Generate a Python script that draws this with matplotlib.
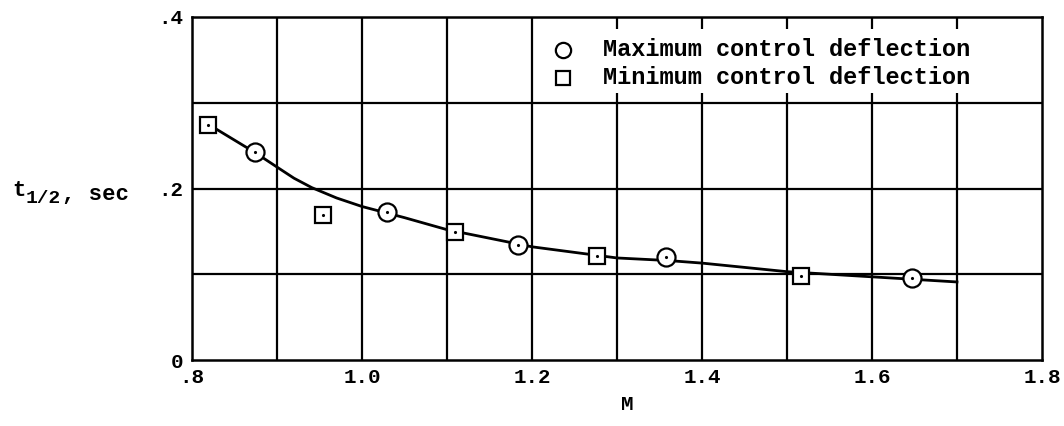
import matplotlib
matplotlib.use("Agg")
import matplotlib.pyplot as plt
from matplotlib.patches import Rectangle

# Data
max_M = [0.874, 1.029, 1.183, 1.358, 1.647]
max_t = [0.243, 0.173, 0.134, 0.1205, 0.096]
min_M = [0.819, 0.954, 1.109, 1.277, 1.517]
min_t = [0.274, 0.169, 0.149, 0.1215, 0.098]

# faired curve
fair_M = [0.819, 0.874, 0.9, 0.92, 0.941, 0.97, 1.0, 1.05, 1.1, 1.2, 1.3, 1.36, 1.4, 1.5, 1.6, 1.7]
fair_t = [0.275, 0.242, 0.225, 0.212, 0.201, 0.189, 0.179, 0.166, 0.152, 0.132, 0.119, 0.116, 0.113, 0.103, 0.097, 0.091]

x_ticks = [0.8, 1.0, 1.2, 1.4, 1.6, 1.8]
x_labels = [".8", "1.0", "1.2", "1.4", "1.6", "1.8"]
y_ticks = [0, 0.2, 0.4]
y_labels = ["0", ".2", ".4"]
legend_labels = ["Maximum control deflection", "Minimum control deflection"]

mono = "Liberation Mono"

fig = plt.figure(figsize=(10.64, 4.26), dpi=100)
ax = fig.add_axes([192/1064, 1-360/426, 850/1064, 343/426])
ax.set_xlim(0.8, 1.8)
ax.set_ylim(0, 0.4)

# grid every 0.1
for gx in [0.9, 1.0, 1.1, 1.2, 1.3, 1.4, 1.5, 1.6, 1.7]:
    ax.axvline(gx, color="black", lw=1.6, zorder=1)
for gy in [0.1, 0.2, 0.3]:
    ax.axhline(gy, color="black", lw=1.6, zorder=1)
for s in ax.spines.values():
    s.set_linewidth(1.8)

ax.plot(fair_M, fair_t, color="black", lw=2.0, zorder=2)
ax.plot(max_M, max_t, "o", ms=13, mfc="white", mec="black", mew=1.6, zorder=3)
ax.plot(min_M, min_t, "s", ms=12, mfc="white", mec="black", mew=1.6, zorder=3)
ax.plot(max_M + min_M, max_t + min_t, ".", ms=2.5, color="black", zorder=4)

ax.set_xticks(x_ticks)
ax.set_xticklabels(x_labels, family=mono, weight="bold", fontsize=15)
ax.set_yticks(y_ticks)
ax.set_yticklabels(y_labels, family=mono, weight="bold", fontsize=15)
ax.tick_params(length=0, pad=6)

# legend drawn by hand, on a blanked-out patch of grid
ax.add_patch(Rectangle((1.209, 0.3115), 0.6, 0.0745, facecolor="white", edgecolor="none", zorder=1.5))
lx = 0.8 + (563-192)/850
ax.plot([lx], [0.362], "o", ms=11, mfc="white", mec="black", mew=1.6, zorder=3)
ax.plot([lx], [0.329], "s", ms=9.5, mfc="white", mec="black", mew=1.6, zorder=3)
ax.text(lx + 0.047, 0.362, legend_labels[0], family=mono, weight="bold", fontsize=17, va="center")
ax.text(lx + 0.047, 0.329, legend_labels[1], family=mono, weight="bold", fontsize=17, va="center")

# axis labels
fig.text(627/1064, 1-405/426, "M", family=mono, weight="bold", fontsize=15, ha="center", va="center")
fig.text(12/1064, 1-190/426, "t", family=mono, weight="bold", fontsize=16, ha="left", va="center")
fig.text(26/1064, 1-198/426, "1/2", family=mono, weight="bold", fontsize=14, ha="left", va="center")
fig.text(62/1064, 1-194/426, ", sec", family=mono, weight="bold", fontsize=16, ha="left", va="center")

fig.savefig("out.png", dpi=100, facecolor="white")
